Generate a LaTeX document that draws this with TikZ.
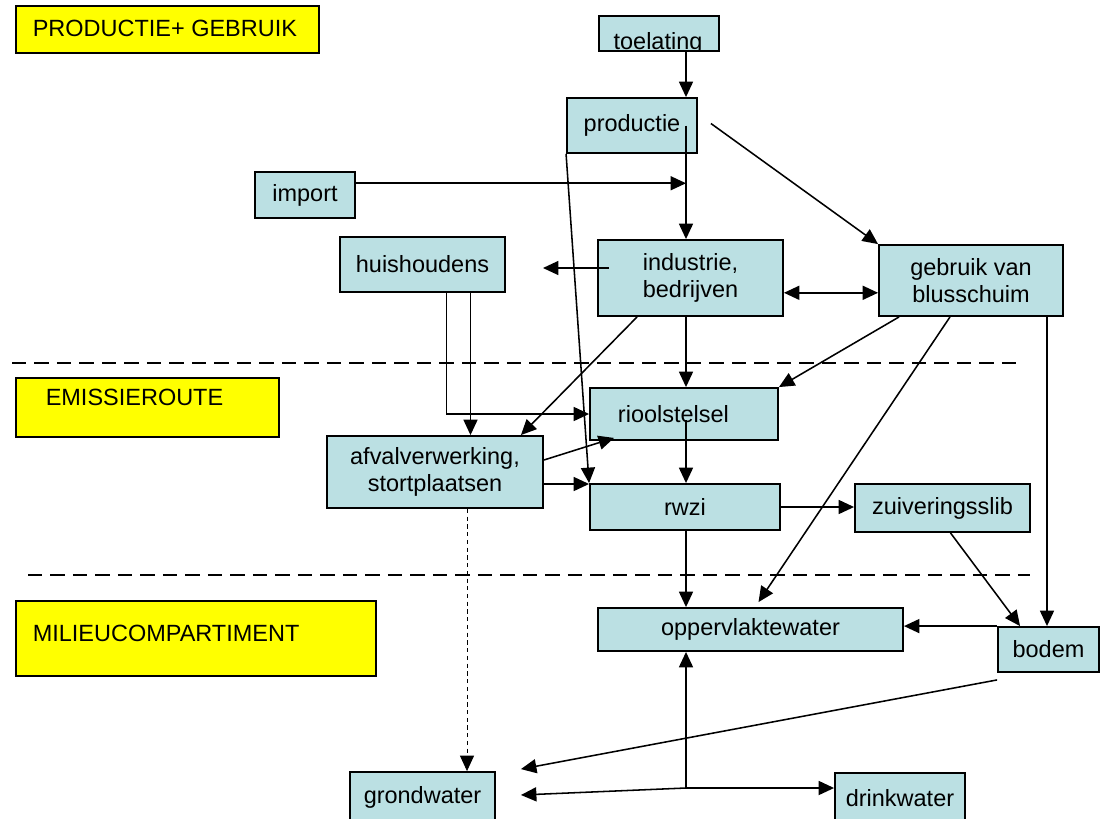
\documentclass[tikz,border=0pt]{standalone}
\usepackage{fontspec}
\setmainfont{Liberation Sans}
\usetikzlibrary{arrows.meta, positioning, calc}
\definecolor{blokblauw}{RGB}{187,224,227}
\definecolor{zonegeel}{RGB}{255,255,0}
\tikzset{
	blok/.style={draw, line width=1.3pt, fill=blokblauw, align=center, inner sep=0pt},
	zone/.style={draw, line width=1.3pt, fill=zonegeel, anchor=north west},
	zonetekst/.style={anchor=west, inner sep=0pt},
	grens/.style={line width=1.8pt, dash pattern=on 10pt off 6pt},
	lek/.style={line width=0.6pt, dash pattern=on 3pt off 2.5pt}
}

\begin{document}
\begin{tikzpicture}[x=0.025cm, y=-0.025cm, font=\fontsize{16.7}{19}\selectfont,
	line width=1.1pt, >={Triangle[length=11pt,width=10pt]}]
			\useasboundingbox (0,0) rectangle (1100,818);

			% zones
			\node[zone, minimum width=7.575cm, minimum height=1.175cm] (prodzone) at (15,5) {};
			\node[zonetekst] (prodzonetekst) at (32,28) {PRODUCTIE+ GEBRUIK};
			\node[zone, minimum width=6.575cm, minimum height=1.475cm] (emiszone) at (15,377) {};
			\node[zonetekst] (emiszonetekst) at (45,397) {EMISSIEROUTE};
			\node[zone, minimum width=9cm, minimum height=1.875cm] (milzone) at (15,600) {};
			\node[zonetekst] (milzonetekst) at (32,633) {MILIEUCOMPARTIMENT};
			\draw[grens] (12,363) -- (1020,363);
			\draw[grens] (28,575) -- (1030,575);

			% blokken
			\node[blok, anchor=north west, minimum width=3cm, minimum height=0.875cm] (toel) at (598,15) {};
			\begin{scope}
				\clip (toel.north west) rectangle ($(toel.south east)+(0,-1)$);
				\node[anchor=base, inner sep=0pt] (toeltekst) at (658,49) {toelating};
			\end{scope}
			\node[blok, minimum width=3.25cm, minimum height=1.375cm] (prod) at (632,125.5) {productie};
			\node[blok, minimum width=2.5cm, minimum height=1.15cm] (imp) at (305,195) {import};
			\node[blok, minimum width=4.125cm, minimum height=1.375cm] (huis) at (422.5,264.5) {huishoudens};
			\node[blok, minimum width=4.625cm, minimum height=1.9cm] (ind) at (690.5,278) {industrie,\\bedrijven};
			\node[blok, minimum width=4.6cm, minimum height=1.775cm] (gebr) at (971,280.5) {gebruik van\\blusschuim};
			\node[blok, minimum width=4.7cm, minimum height=1.3cm] (riool) at (684,414) {rioolstelsel\hspace{0.9em}};
			\node[blok, minimum width=5.4cm, minimum height=1.8cm] (afval) at (435,472) {afvalverwerking,\\stortplaatsen};
			\node[blok, minimum width=4.75cm, minimum height=1.15cm] (rwzi) at (685,507) {rwzi};
			\node[blok, minimum width=4.375cm, minimum height=1.2cm] (zuiv) at (942.5,508) {zuiveringsslib};
			\node[blok, minimum width=7.625cm, minimum height=1.075cm] (opp) at (750.5,629.5) {oppervlaktewater};
			\node[blok, minimum width=2.525cm, minimum height=1.125cm] (bodem) at (1048.5,649.5) {bodem};
			\node[blok, minimum width=3.625cm, minimum height=1.25cm] (grond) at (422.5,797) {grondwater};
			\node[blok, minimum width=3.25cm, minimum height=1.25cm] (drink) at (900,798) {drinkwater};

			\coordinate (as) at (686,0);
			\coordinate (loos) at (543,268);
			\coordinate (knoop) at (686,788);

			\path[->]
			(toel.south -| as) edge (prod.north -| as)
			(prod.east -| as) edge (ind.north -| as)
			(imp.13) edge (imp.13 -| as)
			($(loos -| ind.west)+(12,0)$) edge (loos)
			(ind.351.4) edge[<->] (ind.351.4 -| gebr.west)
			($(prod.east)+(13,-2)$) edge (gebr.north west)
			(prod.south west) edge (rwzi.north west)
			($(huis.south)+(48,0)$) edge ($(huis.south |- afval.north)+(48,0)$)
			($(ind.south west)+(40,0)$) edge ($(afval.north east)+(-23,0)$)
			($(afval.east)+(0,-12)$) edge ($(riool.south west)+(25,-3)$)
			($(afval.east)+(0,12)$) edge ($(afval.east -| rwzi.west)+(0,12)$)
			(ind.south -| as) edge (riool.north -| as)
			($(gebr.south west)+(21,0)$) edge (riool.north east)
			($(riool.center -| as)+(0,6)$) edge (rwzi.north -| as)
			($(gebr.south)+(-21,0)$) edge ($(opp.north)+(8,-5)$)
			($(gebr.south)+(76,0)$) edge ($(gebr.south |- bodem.north)+(76,0)$)
			(rwzi.east) edge (rwzi.east -| zuiv.west)
			($(zuiv.south)+(8,0)$) edge ($(bodem.north west)+(23,0)$)
			(rwzi.south -| as) edge (opp.north -| as)
			(bodem.north west) edge (bodem.north west -| opp.east)
			($(bodem.south west)+(0,7)$) edge ($(grond.north east)+(25,-2)$)
			(knoop) edge (opp.south -| knoop)
			(knoop) edge (knoop -| drink.west)
			(knoop) edge ($(grond.east)+(25,-2)$);
			\draw[->] ($(huis.south)+(24,0)$) |- (riool.west);
			\draw[->, lek] ($(afval.south)+(32,0)$) -- ($(afval.south |- grond.north)+(32,0)$);
\end{tikzpicture}
\end{document}
